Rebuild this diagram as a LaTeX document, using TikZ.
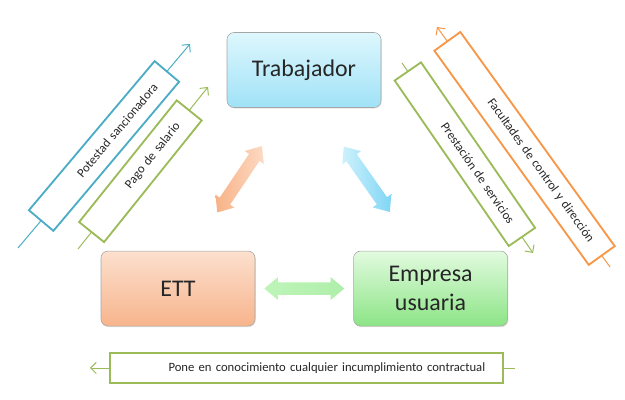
\documentclass[tikz,border=0pt]{standalone}
\usepackage{fontspec}
\setmainfont{Carlito}
\usetikzlibrary{arrows.meta,positioning,shapes.arrows,shadows}

\definecolor{lblue}{RGB}{75,172,198}
\definecolor{lgreen}{RGB}{155,187,89}
\definecolor{lorange}{RGB}{247,150,70}

\begin{document}
\begin{tikzpicture}[>={Straight Barb[length=4pt,width=8pt]},
    box/.style={draw=black!35, rounded corners=5pt, minimum width=3.85cm, minimum height=1.875cm,
      align=center, text=black!85, font=\fontsize{17}{21}\selectfont,
      drop shadow={opacity=0.2, shadow xshift=0.6pt, shadow yshift=-0.8pt}},
    tag/.style={draw, fill=white, line width=1.3pt, text=black!85, font=\fontsize{9}{11}\selectfont,
      align=right, inner xsep=0.45cm, inner ysep=0pt, minimum height=0.8cm, sloped},
    fat/.style={double arrow, inner xsep=0pt, inner ysep=0.15cm, minimum height=2cm,
      double arrow head extend=0.13cm, double arrow tip angle=80}]
\useasboundingbox (0,0) rectangle (15.625,10);

% the three parties
\node[box, top color={rgb,255:red,222;green,247;blue,253}, bottom color={rgb,255:red,160;green,226;blue,247}] (trab) at (7.6,8.25) {Trabajador};
\node[box, top color={rgb,255:red,252;green,224;blue,206}, bottom color={rgb,255:red,247;green,180;blue,140},
  below=3.575cm of trab, xshift=-3.15cm] (ett) {ETT};
\node[box, top color={rgb,255:red,226;green,251;blue,223}, bottom color={rgb,255:red,140;green,228;blue,134},
  right=2.45cm of ett] (emp) {Empresa\\usuaria};

% links between them
\path ([xshift=-0.41cm]trab.south) -- node[fat, sloped, left color={rgb,255:red,248;green,178;blue,134}, right color={rgb,255:red,252;green,218;blue,196}] {} ([xshift=0.34cm]ett.north);
\path ([xshift=0.31cm]trab.south) -- node[fat, sloped, left color={rgb,255:red,205;green,241;blue,252}, right color={rgb,255:red,128;green,214;blue,245}] {} ([xshift=-0.335cm]emp.north);
\path (ett) -- node[fat, left color={rgb,255:red,190;green,245;blue,185}, right color={rgb,255:red,175;green,238;blue,170}] {} (emp);

% obligations
\coordinate (ps0) at (0.45,3.8);
\coordinate (ps1) at (4.75,8.9);
\draw[->, lblue, line width=0.7pt] (ps0) -- node[tag, pos=0.5, text width=3.975cm] {Potestad sancionadora} (ps1);

\coordinate (pg0) at (1.95,3.775);
\coordinate (pg1) at (5.2,7.825);
\draw[->, lgreen, line width=0.7pt] (pg0) -- node[tag, pos=0.48, text width=3cm] {Pago de salario} (pg1);

\coordinate (pr0) at (10.05,8.425);
\coordinate (pr1) at (13.325,3.675);
\draw[->, lgreen, line width=0.7pt] (pr0) -- node[tag, pos=0.48, text width=4.125cm] {Prestación de servicios} (pr1);

\coordinate (fc0) at (15.25,3.325);
\coordinate (fc1) at (10.925,9.325);
\draw[->, lorange, line width=0.7pt] (fc0) -- node[tag, pos=0.494, text width=5.7cm] {Facultades de control y dirección} (fc1);

\coordinate (pc0) at (12.875,0.8);
\coordinate (pc1) at (2.25,0.8);
\draw[->, lgreen, line width=0.7pt] (pc0) -- node[tag, pos=0.49, minimum height=0.75cm, text width=8.925cm] {Pone en conocimiento cualquier incumplimiento contractual} (pc1);
\end{tikzpicture}
\end{document}
